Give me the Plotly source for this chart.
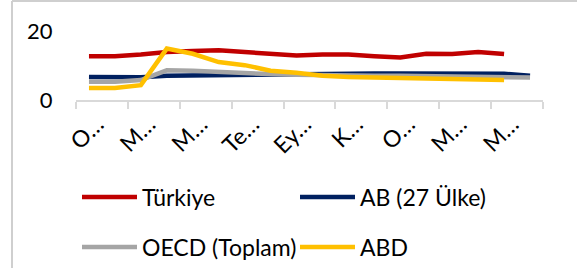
import plotly.graph_objects as go

months = ["Ocak 2020", "Şubat 2020", "Mart 2020", "Nisan 2020", "Mayıs 2020", "Haziran 2020",
          "Temmuz 2020", "Ağustos 2020", "Eylül 2020", "Ekim 2020", "Kasım 2020", "Aralık 2020",
          "Ocak 2021", "Şubat 2021", "Mart 2021", "Nisan 2021", "Mayıs 2021", "Haziran 2021"]
tick_labels = ["O…", "M…", "M…", "Te…", "Ey…", "K…", "O…", "M…", "M…"]

turkiye = [12.7, 12.7, 13.2, 13.9, 14.2, 14.4, 13.9, 13.4, 12.9, 13.2, 13.2, 12.7, 12.3, 13.4, 13.3, 13.9, 13.3]
ab27 = [6.7, 6.7, 6.6, 7.0, 7.1, 7.2, 7.4, 7.6, 7.7, 7.7, 7.7, 7.7, 7.7, 7.7, 7.7, 7.7, 7.6, 7.0]
oecd = [5.3, 5.3, 5.8, 8.6, 8.5, 8.1, 7.8, 7.5, 7.3, 7.1, 7.0, 7.0, 7.0, 6.9, 6.8, 6.7, 6.6, 6.5]
abd = [3.5, 3.5, 4.3, 14.9, 13.4, 11.0, 10.1, 8.5, 7.9, 7.0, 6.7, 6.5, 6.3, 6.2, 6.0, 5.9, 5.8]

series = [
    ("Türkiye", turkiye, "#C00000", "legend"),
    ("AB (27 Ülke)", ab27, "#002060", "legend"),
    ("OECD (Toplam)", oecd, "#A5A5A5", "legend2"),
    ("ABD", abd, "#FFC000", "legend2"),
]

FONT = "Lato"
fig = go.Figure()
idx = list(range(len(months)))
for name, vals, color, lg in series:
    fig.add_trace(go.Scatter(
        x=idx[:len(vals)], y=vals, name=name, mode="lines",
        line=dict(color=color, width=4.5), legend=lg,
        customdata=months[:len(vals)],
    ))
# invisible frame subplot: its free axes draw the chart-area border
fig.add_trace(go.Scatter(x=[0.5], y=[0.5], mode="none", xaxis="x2", yaxis="y2",
                         showlegend=False, hoverinfo="skip"))

W, H = 577, 268
# paper area = chart-area frame (left edge at px 12, top edge at px 1)
ml, mr, mt, mb = 12, 0, 1, 0
PW, PH = W - ml - mr, H - mt - mb
# plot area in pixels
px_l, px_r, px_t, px_b = 76, 543, 31, 100

grid = "#D9D9D9"
frame = "#CFCFCF"
leg_common = dict(orientation="h", xref="container", yref="container",
                  xanchor="left", yanchor="middle",
                  entrywidth=148, entrywidthmode="pixels", itemwidth=55,
                  font=dict(size=23, family=FONT), bgcolor="rgba(0,0,0,0)")
fig.update_layout(
    width=W, height=H,
    margin=dict(l=ml, r=mr, t=mt, b=mb, autoexpand=False),
    paper_bgcolor="white", plot_bgcolor="rgba(0,0,0,0)",
    font=dict(family=FONT, size=22, color="#000000"),
    xaxis=dict(
        domain=[(px_l - ml) / PW, (px_r - ml) / PW],
        range=[-0.5, len(months) - 0.5],
        tickmode="array", tickvals=idx[::2], ticktext=tick_labels,
        tickangle=-45, ticks="", showgrid=False, zeroline=False,
        showline=True, linecolor=grid, linewidth=1.5,
        tickfont=dict(size=23), ticklabelshift=8,
        minor=dict(tickmode="array", tickvals=[i - 0.5 for i in idx[::2]] + [len(months) - 0.5],
                   ticks="outside", ticklen=7, tickcolor=grid, tickwidth=1.5, showgrid=False),
    ),
    yaxis=dict(
        domain=[(H - px_b) / PH, (H - px_t) / PH],
        range=[0, 20], tickmode="array", tickvals=[0, 20], ticktext=["0", "20"],
        showgrid=True, gridcolor=grid, gridwidth=1.5, zeroline=False, showline=False,
        ticks="outside", ticklen=18, tickcolor="rgba(0,0,0,0)",
        tickfont=dict(size=22),
    ),
    xaxis2=dict(domain=[0, 1], anchor="free", position=1, side="top", range=[0, 1],
                showline=True, linecolor=frame, linewidth=2, showticklabels=False,
                ticks="", showgrid=False, zeroline=False, fixedrange=True),
    yaxis2=dict(domain=[0, 1], anchor="free", position=0, side="left", range=[0, 1],
                showline=True, linecolor=frame, linewidth=2, showticklabels=False,
                ticks="", showgrid=False, zeroline=False, fixedrange=True),
    shapes=[
        dict(type="line", xref="paper", yref="paper", layer="above",
             x0=0, x1=0, y0=0, y1=1, line=dict(color=frame, width=2)),
        dict(type="line", xref="paper", yref="paper", layer="above",
             x0=0, x1=1, y0=1, y1=1, line=dict(color=frame, width=2)),
    ],
    showlegend=True,
    legend=dict(x=77 / W, y=1 - 197 / H, **leg_common),
    legend2=dict(x=77 / W, y=1 - 247 / H, **leg_common),
)

fig.write_html("out.html", config={"displayModeBar": False},
               post_script="document.body.style.margin='0';document.body.style.overflow='hidden';")
